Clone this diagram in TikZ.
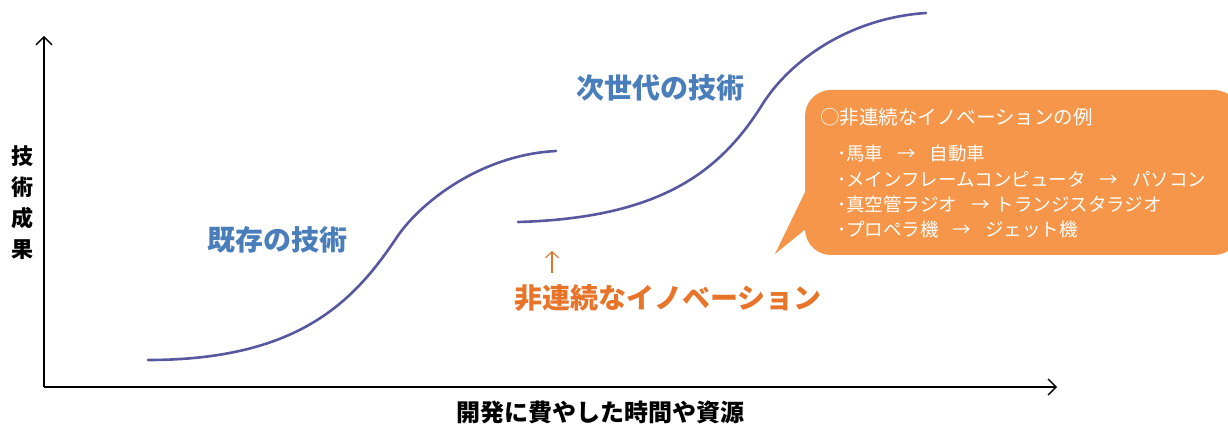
\documentclass[tikz,border=0pt]{standalone}
\usepackage{fontspec}
\newfontfamily\cjk{Noto Sans CJK JP}
\usetikzlibrary{arrows.meta}
\definecolor{curvecol}{RGB}{88,88,160}
\definecolor{labelblue}{RGB}{74,126,187}
\definecolor{innorange}{RGB}{232,116,42}
\definecolor{boxorange}{RGB}{245,150,74}
\tikzset{
  axis/.style={line width=1.4pt, draw=black, -{Straight Barb[length=8pt 0,width=16pt 0,line width=1.3pt]}},
  scurve/.style={line width=2.6pt, draw=curvecol, line cap=round},
  biglabel/.style={font=\cjk\bfseries\fontsize{28}{30}\selectfont, inner sep=0pt},
  boxtext/.style={font=\cjk\fontsize{18.5}{20}\selectfont, text=white, anchor=west, inner sep=0pt},
}
\newcommand{\gapA}{\hspace{14pt}}
\begin{document}
\begin{tikzpicture}[x=1pt,y=-1pt]
\clip (0,0) rectangle (1228,427);
\fill[white] (0,0) rectangle (1228,427);
% axes
\coordinate (O) at (44,387);
\coordinate (ytop) at (44,36);
\coordinate (xend) at (1057,387);
\draw[axis] (O) -- (ytop);
\draw[axis] (O) -- (xend);
\node[font=\cjk\bfseries\fontsize{22}{31}\selectfont, align=center, inner sep=0pt] (ylab) at (22,203) {技\\術\\成\\果};
\node[font=\cjk\bfseries\fontsize{24}{26}\selectfont, inner sep=0pt] (xlab) at (600,412) {開発に費やした時間や資源};
% curves
\draw[scurve] (148,360) .. controls (300,360) and (355,300) .. (397,237)
                       .. controls (420,203) and (480,155) .. (556,151);
\draw[scurve] (518,222) .. controls (660,218) and (720,172) .. (762,105)
                       .. controls (790,60) and (850,18) .. (926,13);
% labels
\node[biglabel, text=labelblue] (old) at (277,240) {既存の技術};
\node[biglabel, text=labelblue] (next) at (660,88) {次世代の技術};
\node[biglabel, text=innorange] (inno) at (668,298) {非連続なイノベーション};
\coordinate (arrlow) at (552,273);
\coordinate (arrtop) at (552,251);
\draw[innorange, line width=1.2pt, -{Straight Barb[length=6pt 0,width=13pt 0,line width=1.1pt]}] (arrlow) -- (arrtop);
% bubble
\fill[boxorange, rounded corners=26pt] (805,90) rectangle (1240,255);
\fill[boxorange] (807,188) -- (775,254) -- (807,228) -- cycle;
\node[font=\cjk\fontsize{19.5}{21}\selectfont, text=white, anchor=west, inner sep=0pt] (hdr) at (820,117) {○非連続なイノベーションの例};
\node[boxtext] (l1) at (837,153) {･馬車\gapA →\gapA 自動車};
\node[boxtext] (l2) at (837,179) {･メインフレームコンピュータ\gapA →\gapA パソコン};
\node[boxtext] (l3) at (837,204) {･真空管ラジオ\gapA →\hspace{6pt}トランジスタラジオ};
\node[boxtext] (l4) at (837,229) {･プロペラ機\gapA →\gapA ジェット機};
\end{tikzpicture}
\end{document}
